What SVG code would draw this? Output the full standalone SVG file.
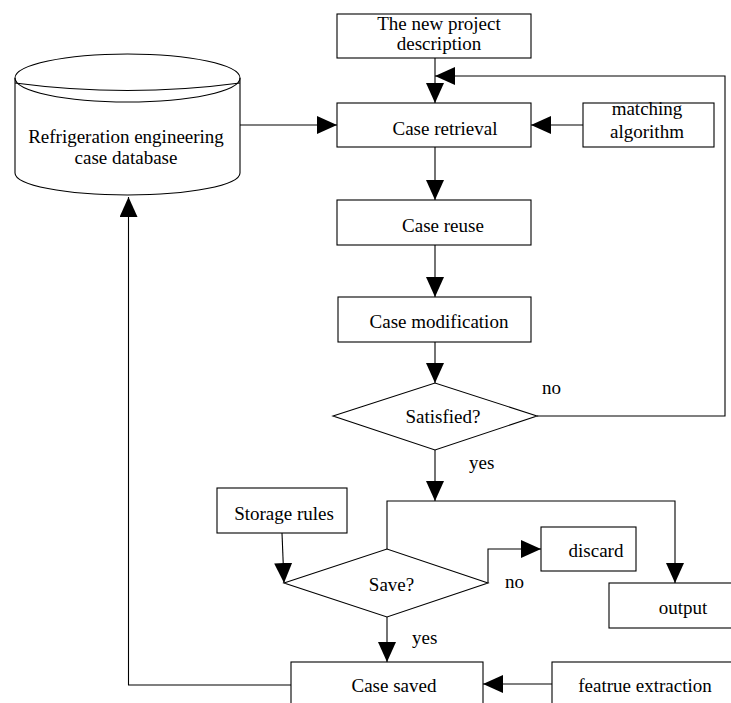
<svg xmlns="http://www.w3.org/2000/svg" width="731" height="703" viewBox="0 0 731 703">
<style>
.s{fill:#fff;stroke:#000;stroke-width:1.1}
.c{fill:none;stroke:#000;stroke-width:1.1}
.a{marker-end:url(#ah)}
text{font-family:"Liberation Serif","Times New Roman",serif;font-size:19px;fill:#000}
.m{text-anchor:middle}
</style>
<defs>
<marker id="ah" viewBox="0 0 20 18" refX="20" refY="9" markerWidth="20" markerHeight="18" markerUnits="userSpaceOnUse" orient="auto">
<path d="M0,0 L20,9 L0,18 z" fill="#000"/>
</marker>
</defs>
<rect width="731" height="703" fill="#fff"/>
<g id="connectors">
<path class="c a" d="M435,58 V103"/>
<path class="c a" d="M537,416 H725 V76 H435"/>
<path class="c a" d="M240,125 H337"/>
<path class="c a" d="M583,125 H531"/>
<path class="c a" d="M435,147 V200"/>
<path class="c a" d="M435,245 V297"/>
<path class="c a" d="M435,342 V383"/>
<path class="c a" d="M435,450 V501"/>
<path class="c a" d="M387,549 V501 H675 V583"/>
<path class="c a" d="M282,533 L284,583"/>
<path class="c a" d="M488,583 V549 H541"/>
<path class="c a" d="M387,617 V662"/>
<path class="c a" d="M552,684 H483"/>
<path class="c a" d="M291,685 H128.5 V197"/>
</g>
<g id="database">
<path class="s" d="M15,78 A112.5 24 0 0 1 240,78 V173 A112.5 22 0 0 1 15,173 Z"/>
<path class="c" d="M15,78 A112.5 24 0 0 0 240,78"/>
<path class="c" d="M15,83 Q127.5,98 240,83"/>
<text class="m" x="126" y="143">Refrigeration engineering</text>
<text class="m" x="126" y="164">case database</text>
</g>
<g id="new-project">
<rect class="s" x="337" y="14" width="194" height="44"/>
<text class="m" x="439" y="29.5">The new project</text>
<text class="m" x="439" y="50">description</text>
</g>
<g id="case-retrieval">
<rect class="s" x="337" y="103" width="194" height="44"/>
<text class="m" x="445" y="135">Case retrieval</text>
</g>
<g id="matching">
<rect class="s" x="583" y="103" width="131" height="44"/>
<text class="m" x="647" y="115">matching</text>
<text class="m" x="647" y="138">algorithm</text>
</g>
<g id="case-reuse">
<rect class="s" x="337" y="200" width="194" height="45"/>
<text class="m" x="443" y="231.5">Case reuse</text>
</g>
<g id="case-modification">
<rect class="s" x="338" y="297" width="193" height="45"/>
<text class="m" x="439" y="328">Case modification</text>
</g>
<g id="satisfied">
<path class="s" d="M333,416 L435,383 L537,416 L435,450 Z"/>
<text class="m" x="443" y="423">Satisfied?</text>
</g>
<g id="storage-rules">
<rect class="s" x="217" y="488" width="130" height="45"/>
<text class="m" x="284" y="520">Storage rules</text>
</g>
<g id="save">
<path class="s" d="M284,583 L387,549 L488,583 L387,617 Z"/>
<text class="m" x="391.5" y="591">Save?</text>
</g>
<g id="discard">
<rect class="s" x="541" y="527" width="95" height="44"/>
<text class="m" x="596" y="557">discard</text>
</g>
<g id="output">
<rect class="s" x="609" y="583" width="140" height="45"/>
<text class="m" x="683" y="614">output</text>
</g>
<g id="case-saved">
<rect class="s" x="291" y="662" width="192" height="60"/>
<text class="m" x="394" y="692">Case saved</text>
</g>
<g id="feature-extraction">
<rect class="s" x="552" y="662" width="200" height="60"/>
<text class="m" x="645" y="692">featrue extraction</text>
</g>
<g id="labels">
<text x="542" y="394">no</text>
<text x="469" y="469">yes</text>
<text x="505" y="588">no</text>
<text x="412" y="644">yes</text>
</g>
</svg>
